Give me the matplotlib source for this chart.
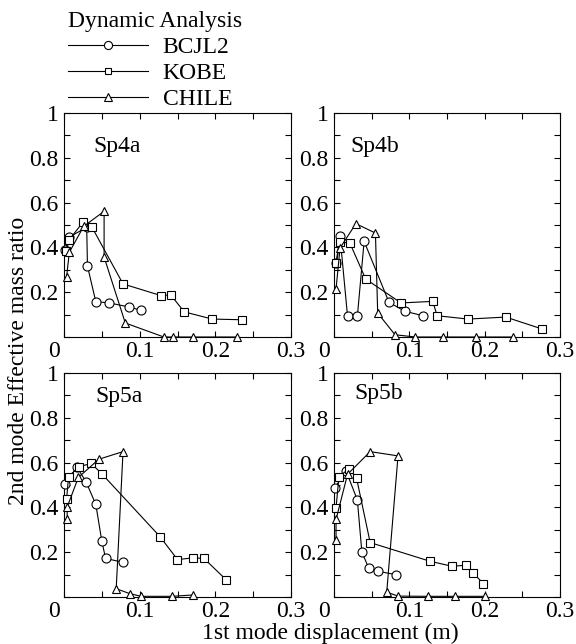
import matplotlib
matplotlib.use("Agg")
import matplotlib.pyplot as plt
from matplotlib.lines import Line2D
from matplotlib.ticker import MultipleLocator, FixedLocator, FixedFormatter
from matplotlib.transforms import ScaledTranslation

plt.rcParams['font.family'] = ['Liberation Serif', 'DejaVu Serif']
FS = 17
plt.rcParams['font.size'] = FS

# ---------------- data ----------------
panel_names = ["Sp4a", "Sp4b", "Sp5a", "Sp5b"]
series_names = ["BCJL2", "KOBE", "CHILE"]

sp4a_bcjl2_x = [0.001, 0.007, 0.030, 0.031, 0.042, 0.060, 0.086, 0.102]
sp4a_bcjl2_y = [0.388, 0.446, 0.49, 0.317, 0.158, 0.152, 0.134, 0.119]
sp4a_kobe_x = [0.003, 0.007, 0.025, 0.037, 0.078, 0.128, 0.141, 0.159, 0.196, 0.235]
sp4a_kobe_y = [0.385, 0.435, 0.512, 0.49, 0.237, 0.185, 0.188, 0.112, 0.080, 0.077]
sp4a_chile_x = [0.0035, 0.007, 0.026, 0.053, 0.053, 0.081, 0.132, 0.144, 0.170, 0.229]
sp4a_chile_y = [0.27, 0.378, 0.494, 0.561, 0.357, 0.0625, 0.0, 0.0, 0.0, 0.0]

sp4b_bcjl2_x = [0.0027, 0.008, 0.018, 0.031, 0.040, 0.073, 0.094, 0.118]
sp4b_bcjl2_y = [0.33, 0.449, 0.092, 0.092, 0.427, 0.155, 0.115, 0.095]
sp4b_kobe_x = [0.003, 0.008, 0.021, 0.042, 0.089, 0.131, 0.137, 0.178, 0.228, 0.276]
sp4b_kobe_y = [0.33, 0.423, 0.42, 0.259, 0.152, 0.159, 0.095, 0.080, 0.089, 0.036]
sp4b_chile_x = [0.0027, 0.008, 0.029, 0.055, 0.058, 0.081, 0.108, 0.145, 0.189, 0.237]
sp4b_chile_y = [0.214, 0.397, 0.506, 0.464, 0.107, 0.01, 0.0, 0.0, 0.0, 0.0]

sp5a_bcjl2_x = [0.0013, 0.017, 0.029, 0.042, 0.050, 0.055, 0.078]
sp5a_bcjl2_y = [0.504, 0.58, 0.515, 0.414, 0.249, 0.172, 0.155]
sp5a_kobe_x = [0.0035, 0.006, 0.020, 0.036, 0.050, 0.127, 0.150, 0.171, 0.185, 0.214]
sp5a_kobe_y = [0.439, 0.537, 0.582, 0.596, 0.55, 0.269, 0.167, 0.175, 0.172, 0.078]
sp5a_chile_x = [0.0044, 0.004, 0.019, 0.046, 0.078, 0.069, 0.087, 0.102, 0.143, 0.170]
sp5a_chile_y = [0.346, 0.40, 0.534, 0.615, 0.649, 0.037, 0.015, 0.003, 0.003, 0.009]

sp5b_bcjl2_x = [0.0013, 0.016, 0.031, 0.037, 0.046, 0.058, 0.082]
sp5b_bcjl2_y = [0.488, 0.563, 0.433, 0.20, 0.13, 0.115, 0.10]
sp5b_kobe_x = [0.0027, 0.0066, 0.020, 0.030, 0.048, 0.127, 0.157, 0.175, 0.185, 0.198]
sp5b_kobe_y = [0.398, 0.537, 0.573, 0.53, 0.243, 0.16, 0.137, 0.142, 0.107, 0.06]
sp5b_chile_x = [0.0027, 0.0027, 0.018, 0.048, 0.085, 0.070, 0.085, 0.125, 0.161, 0.200]
sp5b_chile_y = [0.254, 0.346, 0.548, 0.649, 0.63, 0.022, 0.004, 0.003, 0.003, 0.003]

x_tick_values = [0, 0.1, 0.2, 0.3]
x_tick_labels = ["0", "0.1", "0.2", "0.3"]
y_tick_values = [0.2, 0.4, 0.6, 0.8, 1.0]
y_tick_labels = ["0.2", "0.4", "0.6", "0.8", "1"]

panels = {
    "Sp4a": [(sp4a_bcjl2_x, sp4a_bcjl2_y), (sp4a_kobe_x, sp4a_kobe_y), (sp4a_chile_x, sp4a_chile_y)],
    "Sp4b": [(sp4b_bcjl2_x, sp4b_bcjl2_y), (sp4b_kobe_x, sp4b_kobe_y), (sp4b_chile_x, sp4b_chile_y)],
    "Sp5a": [(sp5a_bcjl2_x, sp5a_bcjl2_y), (sp5a_kobe_x, sp5a_kobe_y), (sp5a_chile_x, sp5a_chile_y)],
    "Sp5b": [(sp5b_bcjl2_x, sp5b_bcjl2_y), (sp5b_kobe_x, sp5b_kobe_y), (sp5b_chile_x, sp5b_chile_y)],
}

# ---------------- styles ----------------
W, H = 576, 644
fig = plt.figure(figsize=(W / 100, H / 100), dpi=100)

markers = ["o", "s", "^"]
msizes = [6.5, 5.2, 6.2]

# axes rectangles in pixels (left, top, right, bottom)
rects = {
    "Sp4a": (64, 113, 291, 337),
    "Sp4b": (334, 113, 560, 337),
    "Sp5a": (64, 373, 291, 597),
    "Sp5b": (334, 373, 560, 597),
}
label_pos = {
    "Sp4a": (0.129, 0.827),
    "Sp4b": (0.071, 0.827),
    "Sp5a": (0.137, 0.872),
    "Sp5b": (0.088, 0.883),
}

for name in panel_names:
    l, t, r, b = rects[name]
    ax = fig.add_axes([l / W, 1 - b / H, (r - l) / W, (b - t) / H])
    for i, (xs, ys) in enumerate(panels[name]):
        ax.plot(xs, ys, marker=markers[i], ms=msizes[i], mfc="white", mec="black",
                mew=0.8, color="black", lw=0.8, clip_on=False, zorder=3 + i)
    ax.set_xlim(0, 0.3)
    ax.set_ylim(0, 1)
    ax.xaxis.set_major_locator(FixedLocator(x_tick_values))
    ax.xaxis.set_major_formatter(FixedFormatter(x_tick_labels))
    ax.xaxis.set_minor_locator(MultipleLocator(0.05))
    ax.yaxis.set_major_locator(FixedLocator(y_tick_values))
    ax.yaxis.set_major_formatter(FixedFormatter(y_tick_labels))
    ax.yaxis.set_minor_locator(MultipleLocator(0.1))
    ax.tick_params(which="both", direction="in", top=True, right=True, width=0.8,
                   labelsize=FS)
    ax.tick_params(which="major", length=4.5, pad=4)
    ax.tick_params(axis="x", which="major", pad=3)
    ax.tick_params(which="minor", length=4.5)
    for sp in ax.spines.values():
        sp.set_linewidth(0.8)
    ax.text(label_pos[name][0], label_pos[name][1], name, transform=ax.transAxes,
            ha="left", va="baseline", fontsize=FS)
    # the "0" x label sits left of the origin
    fig.canvas.draw()
    lab0 = ax.get_xticklabels()[0]
    lab0.set_ha("right")
    lab0.set_transform(lab0.get_transform() + ScaledTranslation(-3 / 72, 0, fig.dpi_scale_trans))

fig.text(18.5 / W, 1 - 361 / H, "2nd mode Effective mass ratio", rotation=90,
         ha="center", va="center", fontsize=FS)
fig.text(330 / W, 1 - 639 / H, "1st mode displacement (m)", ha="center",
         va="baseline", fontsize=FS)

leg_handles = [Line2D([0], [0], color="black", lw=0.8, marker=m, ms=s * 0.9,
                      mfc="white", mec="black", mew=0.8) for m, s in zip(markers, msizes)]
leg = fig.legend(leg_handles, series_names, title="Dynamic Analysis",
                 loc="upper left", bbox_to_anchor=(54 / W, 1 + 3 / H),
                 frameon=False, handlelength=3.4, handletextpad=0.6,
                 labelspacing=0.19, borderpad=0.1, alignment="left",
                 title_fontsize=FS, fontsize=FS)

fig.savefig("out.png", dpi=100)
